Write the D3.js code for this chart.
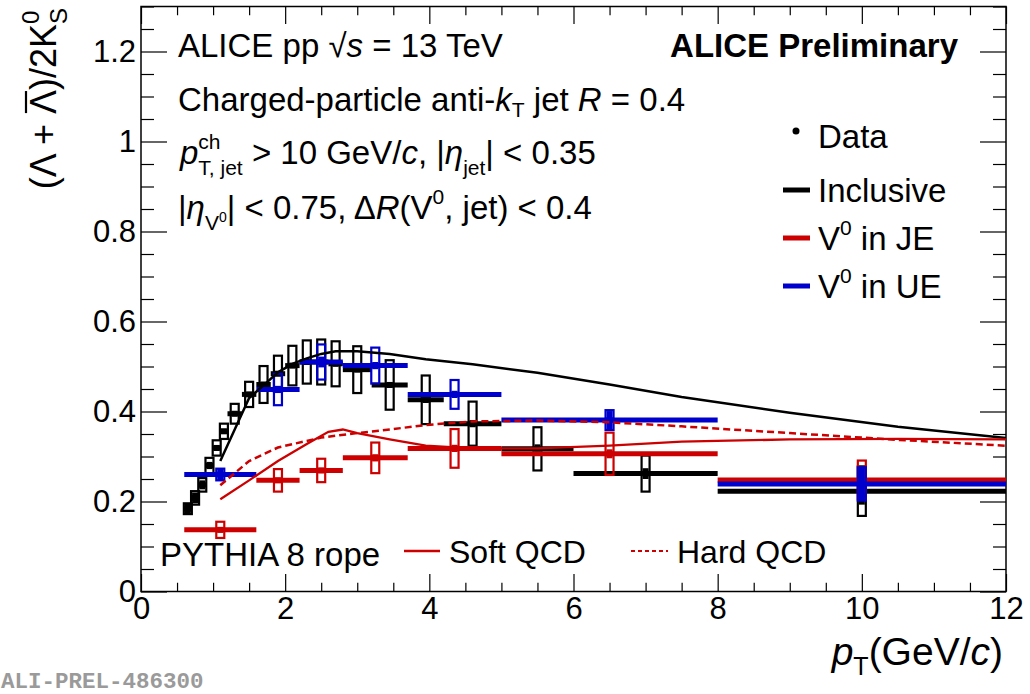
<!DOCTYPE html>
<html><head><meta charset="utf-8">
<script src="https://cdn.jsdelivr.net/npm/d3@7"></script>
<style>
body{margin:0;background:#fff}
svg{display:block}
text{white-space:pre}
</style>
</head><body>
<svg id="chart" width="1030" height="694" font-family='"Liberation Sans",Arial,Helvetica,sans-serif'></svg>
<script>
// ---------------- data ----------------
const xTickLabels = [0, 2, 4, 6, 8, 10, 12];
const yTickLabels = [0, 0.2, 0.4, 0.6, 0.8, 1, 1.2];

// Inclusive V0 (black)
const incLow   = [0.6,0.7,0.8,0.9,1.0,1.1,1.2,1.4,1.6,1.8,2.0,2.2,2.4,2.6,2.8,3.2,3.7,4.2,5,6,8];
const incHigh  = [0.7,0.8,0.9,1.0,1.1,1.2,1.4,1.6,1.8,2.0,2.2,2.4,2.6,2.8,3.2,3.7,4.2,5,6,8,12];
const incValue = [0.184,0.208,0.237,0.280,0.319,0.356,0.395,0.438,0.460,0.484,0.502,0.510,0.510,0.506,0.493,0.459,0.426,0.373,0.317,0.262,0.223];
const incStat  = [0.012,0.012,0.010,0.008,0.006,0.005,0.005,0.004,0.004,0.004,0.004,0.004,0.004,0.004,0.005,0.006,0.007,0.008,0.010,0.012,0.030];
const incSys   = [0.012,0.015,0.015,0.017,0.017,0.017,0.022,0.028,0.041,0.040,0.044,0.048,0.050,0.050,0.052,0.055,0.054,0.049,0.048,0.040,0.055];

// V0 in jet (red) and in UE (blue)
const binLow   = [0.6,1.6,2.2,2.8,3.7,5,8];
const binHigh  = [1.6,2.2,2.8,3.7,5,8,12];
const jeValue  = [0.137,0.247,0.269,0.297,0.318,0.306,0.248];
const jeStat   = [0.006,0.006,0.006,0.008,0.008,0.010,0.030];
const jeSys    = [0.018,0.025,0.026,0.034,0.043,0.047,0.043];
const ueValue  = [0.260,0.449,0.510,0.502,0.438,0.381,0.239];
const ueStat   = [0.013,0.008,0.012,0.008,0.008,0.020,0.037];
const ueSys    = [0.013,0.035,0.039,0.040,0.032,0.022,0.037];

// PYTHIA 8 rope curves
const incSoftPt = [1.1,1.3,1.5,1.7,1.9,2.1,2.3,2.5,2.7,3.0,3.45,3.95,4.6,5.5,6.5,7.5,9,10.5,12];
const incSoft   = [0.290,0.360,0.430,0.458,0.487,0.506,0.518,0.528,0.534,0.534,0.528,0.516,0.505,0.486,0.460,0.432,0.397,0.366,0.341];
const jeSoftPt  = [1.1,1.5,1.9,2.3,2.6,2.8,3.0,3.45,3.95,4.6,5.5,6.5,7.5,9,10.5,12];
const jeSoft    = [0.205,0.247,0.290,0.328,0.355,0.360,0.352,0.338,0.324,0.318,0.318,0.324,0.333,0.338,0.339,0.338];
const jeHardPt  = [1.1,1.5,1.9,2.5,3.0,3.45,3.95,4.6,5.5,6.5,7.5,9,10.5,12];
const jeHard    = [0.236,0.290,0.320,0.342,0.352,0.360,0.370,0.378,0.380,0.376,0.367,0.352,0.337,0.324];

// ---------------- layout ----------------
const BLACK = "#000000", RED = "#cc0000", BLUE = "#0000cc";
const L = 141, R = 1006, T = 6.5, B = 591.5;
const svg = d3.select("#chart");
const x = d3.scaleLinear().domain([0, 12]).range([L, R]);
const y = d3.scaleLinear().domain([0, 1.3]).range([B, T]);

// rich text helper
function rich(parent, px, py, runs, opts = {}) {
  const g = parent.append("g");
  const fs0 = opts.fs || 32;
  let cx = 0, lastStart = 0, lastW = 0;
  const placed = [];
  runs.forEach(r => {
    const t = g.append("text").text(r.t)
      .attr("font-size", r.fs || fs0)
      .attr("font-style", r.it ? "italic" : null)
      .attr("font-weight", r.b || opts.b ? "bold" : null)
      .attr("fill", r.fill || opts.fill || "#000")
      .attr("y", r.dy || 0);
    const w = t.node().getComputedTextLength();
    let sx;
    if (r.stack) { sx = lastStart; cx = Math.max(lastStart + lastW, sx + w); }
    else { sx = cx + (r.dx || 0); cx = sx + w; lastStart = sx; lastW = w; }
    t.attr("x", sx);
    placed.push({ t, sx, w, r });
  });
  let shift = 0;
  if (opts.anchor === "end") shift = -cx;
  g.attr("transform", `translate(${px + shift},${py})`);
  return { g, placed, width: cx };
}

// ---------------- axes ----------------
const xMajor = xTickLabels;
const xMinor = d3.range(0, 12.001, 0.5).filter(v => Math.abs(v / 2 - Math.round(v / 2)) > 1e-6);
const yMajor = yTickLabels;
const yMinor = d3.range(0, 1.3001, 0.05).filter(v => Math.abs(v / 0.2 - Math.round(v / 0.2)) > 1e-6);

const XT = 17.5, YT = 26, TFS = 31;
function axisG(tr) { return svg.append("g").attr("transform", tr); }
const axB = axisG(`translate(0,${B})`).call(d3.axisBottom(x).tickValues(xMajor).tickSizeInner(-XT).tickSizeOuter(0).tickPadding(5).tickFormat(d => String(d)));
axisG(`translate(0,${B})`).call(d3.axisBottom(x).tickValues(xMinor).tickSizeInner(-XT / 2).tickSizeOuter(0).tickFormat(""));
axisG(`translate(0,${T})`).call(d3.axisTop(x).tickValues(xMajor).tickSizeInner(-XT).tickSizeOuter(0).tickFormat(""));
axisG(`translate(0,${T})`).call(d3.axisTop(x).tickValues(xMinor).tickSizeInner(-XT / 2).tickSizeOuter(0).tickFormat(""));
const axL = axisG(`translate(${L},0)`).call(d3.axisLeft(y).tickValues(yMajor).tickSizeInner(-YT).tickSizeOuter(0).tickPadding(5).tickFormat(d => String(d)));
axisG(`translate(${L},0)`).call(d3.axisLeft(y).tickValues(yMinor).tickSizeInner(-YT / 2).tickSizeOuter(0).tickFormat(""));
axisG(`translate(${R},0)`).call(d3.axisRight(y).tickValues(yMajor).tickSizeInner(-YT).tickSizeOuter(0).tickFormat(""));
axisG(`translate(${R},0)`).call(d3.axisRight(y).tickValues(yMinor).tickSizeInner(-YT / 2).tickSizeOuter(0).tickFormat(""));
svg.selectAll(".domain").remove();
svg.selectAll(".tick line").attr("stroke", "#000").attr("stroke-width", 1.2);
[axB, axL].forEach(a => a.selectAll(".tick text").attr("font-size", TFS).attr("fill", "#000")
  .attr("font-family", '"Liberation Sans",Arial,sans-serif'));
svg.append("rect").attr("x", L).attr("y", T).attr("width", R - L).attr("height", B - T)
  .attr("fill", "none").attr("stroke", "#000").attr("stroke-width", 1.5);

// ---------------- data drawing ----------------
const BOXW = 8;
function drawSeries(lo, hi, val, stat, sys, color) {
  const g = svg.append("g");
  const idx = d3.range(val.length);
  const cen = i => (lo[i] + hi[i]) / 2;
  g.selectAll("line.h").data(idx).join("line")
    .attr("x1", i => x(lo[i])).attr("x2", i => x(hi[i]))
    .attr("y1", i => y(val[i])).attr("y2", i => y(val[i]))
    .attr("stroke", color).attr("stroke-width", 5);
  g.selectAll("line.v").data(idx).join("line")
    .attr("x1", i => x(cen(i))).attr("x2", i => x(cen(i)))
    .attr("y1", i => y(val[i] - stat[i])).attr("y2", i => y(val[i] + stat[i]))
    .attr("stroke", color).attr("stroke-width", 6);
  g.selectAll("rect.sys").data(idx).join("rect")
    .attr("x", i => x(cen(i)) - BOXW / 2).attr("width", BOXW)
    .attr("y", i => y(val[i] + sys[i])).attr("height", i => y(val[i] - sys[i]) - y(val[i] + sys[i]))
    .attr("fill", "none").attr("stroke", color).attr("stroke-width", 2.2);
  g.selectAll("rect.m").data(idx).join("rect")
    .attr("x", i => x(cen(i)) - 3).attr("y", i => y(val[i]) - 3)
    .attr("width", 6).attr("height", 6).attr("fill", color);
}
drawSeries(incLow, incHigh, incValue, incStat, incSys, BLACK);
drawSeries(binLow, binHigh, jeValue, jeStat, jeSys, RED);
drawSeries(binLow, binHigh, ueValue, ueStat, ueSys, BLUE);

// ---------------- model curves ----------------
const line = d3.line().x(d => x(d[0])).y(d => y(d[1]));
svg.append("path").datum(d3.zip(incSoftPt, incSoft)).attr("d", line)
  .attr("fill", "none").attr("stroke", BLACK).attr("stroke-width", 2.5);
svg.append("path").datum(d3.zip(jeSoftPt, jeSoft)).attr("d", line)
  .attr("fill", "none").attr("stroke", RED).attr("stroke-width", 2.3);
svg.append("path").datum(d3.zip(jeHardPt, jeHard)).attr("d", line)
  .attr("fill", "none").attr("stroke", RED).attr("stroke-width", 2.5).attr("stroke-dasharray", "7,4");

// ---------------- texts ----------------
const FS = 33, SFS = 21;
rich(svg, 178, 57, [{ t: "ALICE pp \u221A", }, { t: "s", it: true }, { t: " = 13 TeV" }], { fs: FS });
rich(svg, 958, 57, [{ t: "ALICE Preliminary", b: true }], { fs: FS, anchor: "end" });
rich(svg, 178, 111, [{ t: "Charged-particle anti-" }, { t: "k", it: true }, { t: "T", fs: SFS, dy: 6 }, { t: " jet " }, { t: "R", it: true }, { t: " = 0.4" }], { fs: FS });
rich(svg, 180, 164, [{ t: "p", it: true }, { t: "ch", fs: SFS, dy: -15 }, { t: "T, jet", fs: SFS, dy: 11, stack: true }, { t: " > 10 GeV/" }, { t: "c", it: true }, { t: ", |" }, { t: "\u03B7", it: true }, { t: "jet", fs: SFS, dy: 11 }, { t: "| < 0.35" }], { fs: FS });
rich(svg, 178, 219, [{ t: "|" }, { t: "\u03B7", it: true }, { t: "V", fs: SFS, dy: 11 }, { t: "0", fs: 14, dy: 3 }, { t: "| < 0.75, \u0394" }, { t: "R", it: true }, { t: "(V" }, { t: "0", fs: SFS, dy: -15 }, { t: ", jet) < 0.4" }], { fs: FS });

// legend
const LX = 783, LX2 = 810, LT = 818;
svg.append("circle").attr("cx", 796).attr("cy", 131).attr("r", 3.5).attr("fill", BLACK);
rich(svg, LT, 148, [{ t: "Data" }], { fs: FS });
const legRows = [{ y: 190, c: BLACK, runs: [{ t: "Inclusive" }] },
                 { y: 238, c: RED, runs: [{ t: "V" }, { t: "0", fs: SFS, dy: -15 }, { t: " in JE" }] },
                 { y: 286, c: BLUE, runs: [{ t: "V" }, { t: "0", fs: SFS, dy: -15 }, { t: " in UE" }] }];
legRows.forEach(r => {
  svg.append("line").attr("x1", LX).attr("x2", LX2).attr("y1", r.y).attr("y2", r.y).attr("stroke", r.c).attr("stroke-width", 5);
  rich(svg, LT, r.y + 12, r.runs, { fs: FS });
});

// PYTHIA legend
rich(svg, 160, 566, [{ t: "PYTHIA 8 rope" }], { fs: 33 });
svg.append("line").attr("x1", 404).attr("x2", 440).attr("y1", 551).attr("y2", 551).attr("stroke", RED).attr("stroke-width", 2.3);
rich(svg, 449, 563, [{ t: "Soft QCD" }], { fs: 32 });
svg.append("line").attr("x1", 631).attr("x2", 668).attr("y1", 551).attr("y2", 551).attr("stroke", RED).attr("stroke-width", 2).attr("stroke-dasharray", "4,3");
rich(svg, 677, 563, [{ t: "Hard QCD" }], { fs: 32 });

// axis titles
rich(svg, 1003, 665, [{ t: "p", it: true }, { t: "T", fs: 25, dy: 10 }, { t: "(GeV/" }, { t: "c", it: true }, { t: ")" }], { fs: 39, anchor: "end" });

const yt = svg.append("g").attr("transform", "translate(56,8) rotate(-90)");
const ytr = rich(yt, 0, 0, [{ t: "(\u039B + " }, { t: "\u039B" }, { t: ")/2K" }, { t: "0", fs: 24, dy: -17 }, { t: "S", fs: 24, dy: 11, stack: true }], { fs: 36, anchor: "end" });
{
  const p = ytr.placed[1];
  ytr.g.append("line").attr("x1", p.sx + 1).attr("x2", p.sx + p.w - 1).attr("y1", -30).attr("y2", -30).attr("stroke", "#000").attr("stroke-width", 2.2);
}

// watermark
svg.append("text").attr("x", 1).attr("y", 688).text("ALI-PREL-486300")
  .style("font-family", '"Liberation Mono","DejaVu Sans Mono",monospace').attr("font-weight", "bold")
  .attr("font-size", 22.5).attr("fill", "#9a9a9a");
</script>
</body></html>
